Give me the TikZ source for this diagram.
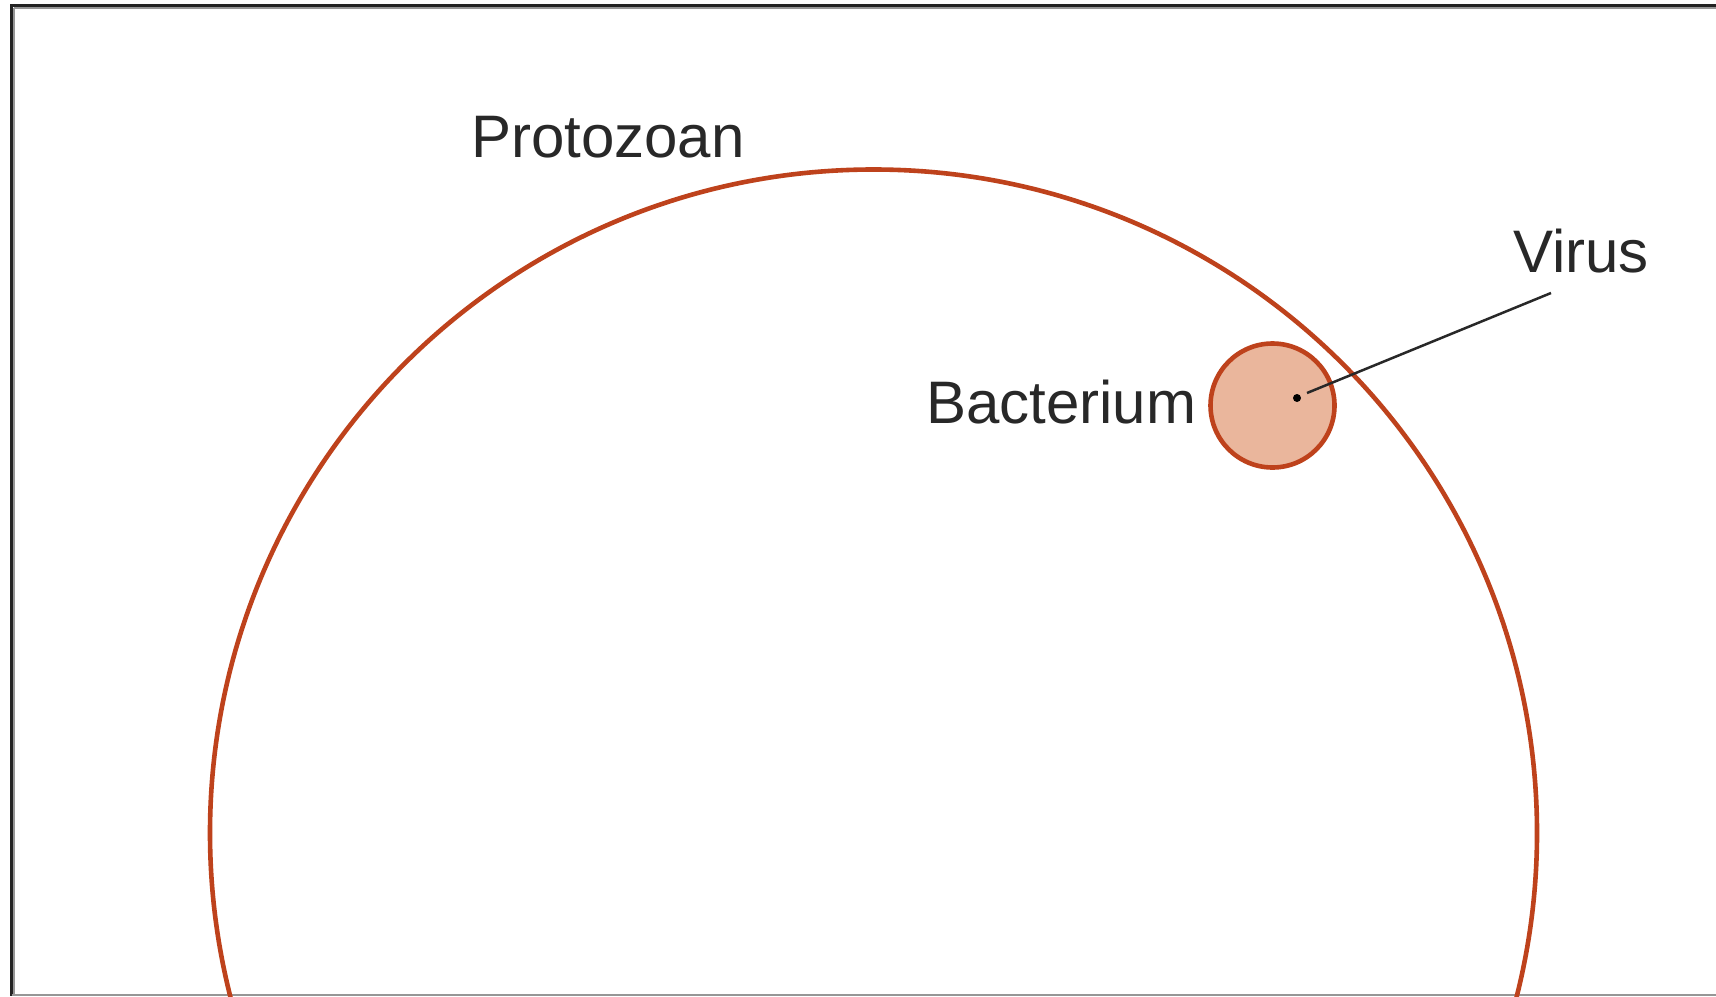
\documentclass[tikz,border=0pt]{standalone}
\usepackage{fontspec}
\setmainfont{Liberation Sans}
\definecolor{cellred}{RGB}{190,66,28}
\definecolor{cellfill}{RGB}{234,182,156}
\definecolor{labelgray}{RGB}{40,40,40}
\definecolor{framedark}{RGB}{35,35,35}
\definecolor{framelight}{RGB}{150,150,150}
\tikzset{
  lbl/.style={inner sep=0pt, anchor=base west, text=labelgray, font=\fontsize{60}{72}\selectfont},
  membrane/.style={draw=cellred, line width=4.6pt},
  pointer/.style={draw=labelgray, line width=2.5pt},
}
\begin{document}
\begin{tikzpicture}[x=1pt,y=-1pt]
\useasboundingbox (0,0) rectangle (1716,996);
\clip (0,0) rectangle (1716,996);
\fill[white] (0,0) rectangle (1716,996);
% frame
\draw[framelight, line width=1.5pt] (14,8) -- (1716,8);
\draw[framelight, line width=1.5pt] (14,8) -- (14,996);
\draw[framedark, line width=3pt] (10.5,5.5) -- (1716,5.5);
\draw[framedark, line width=3pt] (11.5,4) -- (11.5,996);
\draw[framelight, line width=2pt] (11.5,995) -- (1716,995);
% protozoan
\node[circle, membrane, minimum size=1327pt, inner sep=0pt] (proto) at (873.5,833) {};
% bacterium
\node[circle, membrane, fill=cellfill, minimum size=124pt, inner sep=0pt] (bact) at (1272.5,405.5) {};
% virus dot
\fill[black] (1297,398) circle (4pt);
\coordinate (vdot) at (1307,393);
% labels
\node[lbl] (tproto) at (471,157) {Protozoan};
\node[lbl] (tbact) at (926,423) {Bacterium};
\node[lbl] (tvirus) at (1513,272) {Virus};
\coordinate (vend) at (1551,293);
\draw[pointer] (vdot) -- (vend);
\end{tikzpicture}
\end{document}
